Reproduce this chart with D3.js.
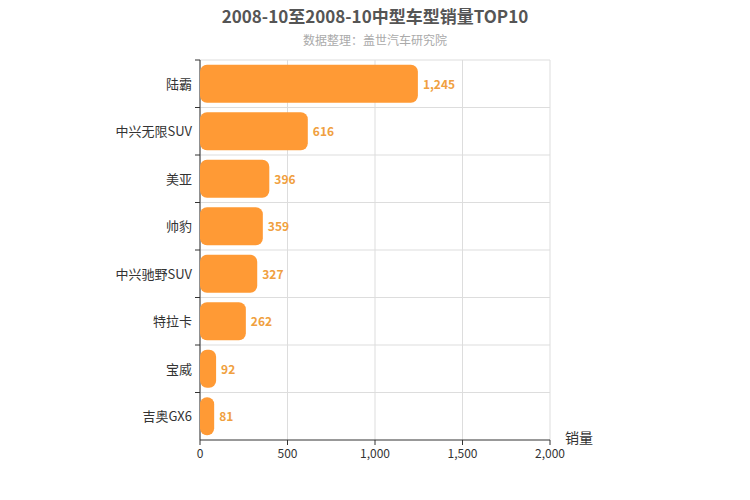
<!DOCTYPE html>
<html><head><meta charset="utf-8">
<script src="https://cdn.jsdelivr.net/npm/d3@7"></script>
<style>body{margin:0;background:#fff;font-family:"Noto Sans CJK SC",sans-serif}</style>
</head><body><svg id="c" width="750" height="500"></svg>
<script>
const categories=["陆霸","中兴无限SUV","美亚","帅豹","中兴驰野SUV","特拉卡","宝威","吉奥GX6"];
const values=[1245,616,396,359,327,262,92,81];
const ticks=[0,500,1000,1500,2000];
const svg=d3.select("#c");
const L=200,R=550,T=60,B=440;
const x=d3.scaleLinear().domain([0,2000]).range([L,R]);
const y=d3.scaleBand().domain(categories).range([T,B]);
svg.append("text").attr("x",375).attr("y",23).attr("text-anchor","middle").attr("font-size",17).attr("font-weight","bold").attr("fill","#555").text("2008-10至2008-10中型车型销量TOP10");
svg.append("text").attr("x",375).attr("y",45).attr("text-anchor","middle").attr("font-size",12).attr("fill","#aaa").text("数据整理：盖世汽车研究院");
const g=svg.append("g");
ticks.forEach(t=>g.append("line").attr("x1",x(t)).attr("x2",x(t)).attr("y1",T).attr("y2",B).attr("stroke","#ddd"));
categories.forEach((c,i)=>g.append("line").attr("x1",L).attr("x2",R).attr("y1",y(c)).attr("y2",y(c)).attr("stroke","#ddd"));
g.append("line").attr("x1",L).attr("x2",R).attr("y1",B).attr("y2",B).attr("stroke","#333");
g.append("line").attr("x1",L).attr("x2",L).attr("y1",T).attr("y2",B).attr("stroke","#333");
ticks.forEach(t=>{g.append("line").attr("x1",x(t)).attr("x2",x(t)).attr("y1",B).attr("y2",B+5).attr("stroke","#333");
g.append("text").attr("x",x(t)).attr("y",B+18).attr("text-anchor","middle").attr("font-size",12).attr("fill","#333").text(d3.format(",")(t));});
categories.forEach((c,i)=>{
 const yc=y(c)+y.bandwidth()/2;
 g.append("line").attr("x1",L-5).attr("x2",L).attr("y1",y(c)).attr("y2",y(c)).attr("stroke","#333");
 g.append("text").attr("x",L-8).attr("y",yc+5).attr("text-anchor","end").attr("font-size",13).attr("fill","#333").text(c);
 g.append("rect").attr("x",L).attr("y",yc-19).attr("width",x(values[i])-L).attr("height",38).attr("rx",7).attr("fill","#ff9a35");
 g.append("text").attr("x",x(values[i])+5).attr("y",yc+5).attr("font-size",12).attr("font-weight","bold").attr("fill","#f0a040").text(d3.format(",")(values[i]));
});
svg.append("text").attr("x",565).attr("y",443).attr("font-size",14).attr("fill","#333").text("销量");
</script></body></html>
